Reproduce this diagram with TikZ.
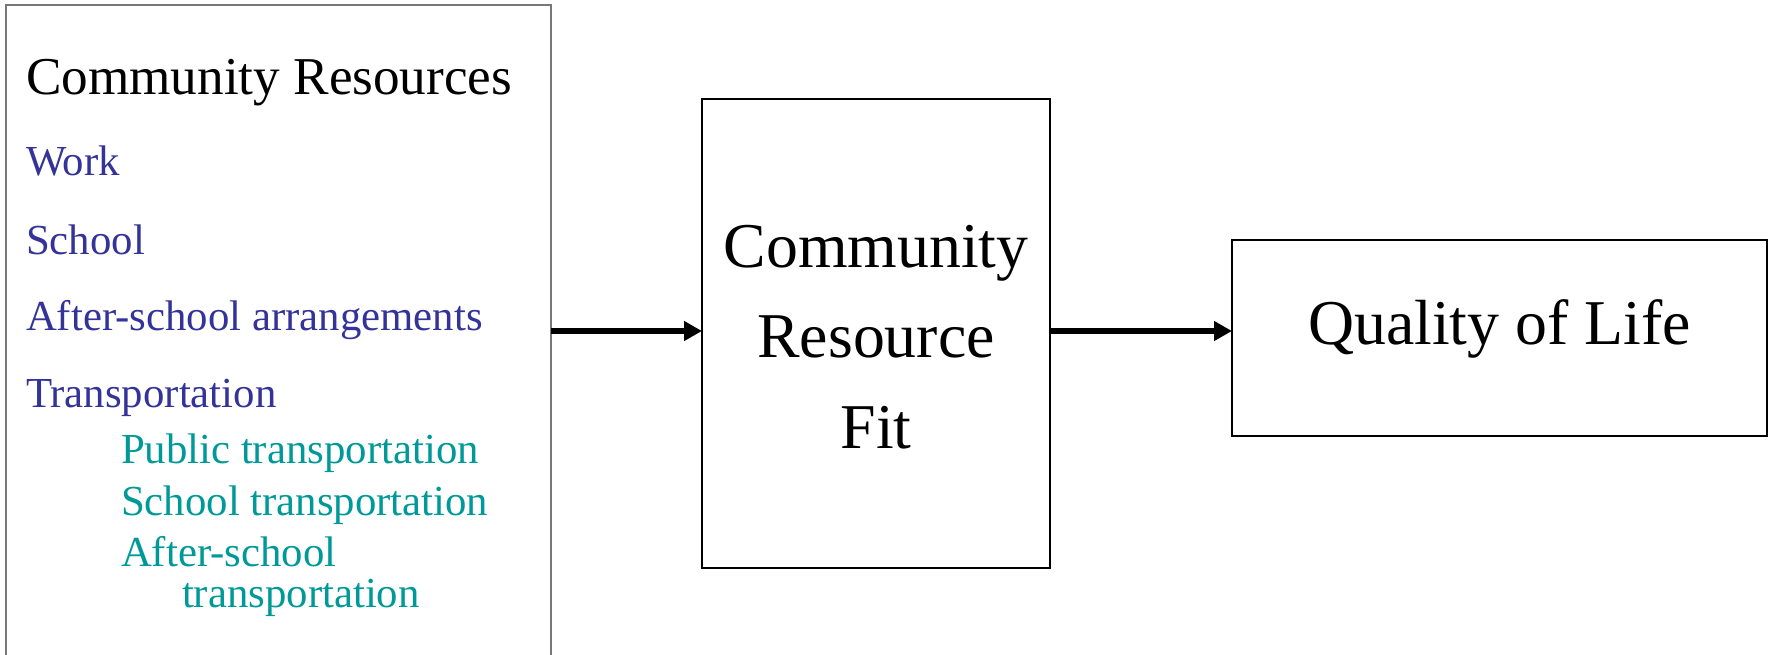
\documentclass[tikz,border=0pt]{standalone}
\usepackage{fontspec}
\setmainfont{Liberation Serif}
\usetikzlibrary{arrows.meta}
\definecolor{itemblue}{RGB}{51,51,153}
\definecolor{itemteal}{RGB}{0,153,153}
\definecolor{boxgray}{RGB}{120,120,120}
\begin{document}
\begin{tikzpicture}[x=0.5pt,y=-0.5pt,
  boxnode/.style={line width=1pt, inner sep=0pt, outer sep=0pt, anchor=north west},
  txt/.style={inner sep=0pt, outer sep=0pt, anchor=base west},
  ctxt/.style={inner sep=0pt, outer sep=0pt, anchor=base},
  titlefont/.style={font=\fontsize{26.6}{30}\selectfont},
  itemfont/.style={font=\fontsize{21.4}{25}\selectfont},
  bigfont/.style={font=\fontsize{31.9}{36}\selectfont},
  arr/.style={line width=3.2pt, -{Triangle[length=9pt,width=9.5pt]}}]
\useasboundingbox (0,0) rectangle (1772,654);
\clip (0,0) rectangle (1772,654);
% boxes
\node[boxnode, draw=boxgray, minimum width=272.5pt, minimum height=350pt] (lbox) at (6,5) {};
\node[boxnode, draw=black, minimum width=174pt, minimum height=234.5pt] (mid) at (702,99) {};
\node[boxnode, draw=black, minimum width=267.5pt, minimum height=98pt] (qol) at (1232,240) {};
% left box texts
\node[txt, titlefont] (t0) at (26,94) {Community Resources};
\node[txt, itemfont, text=itemblue] (t1) at (26,175) {Work};
\node[txt, itemfont, text=itemblue] (t2) at (26,254) {School};
\node[txt, itemfont, text=itemblue] (t3) at (26,330) {After-school arrangements};
\node[txt, itemfont, text=itemblue] (t4) at (26,407) {Transportation};
\node[txt, itemfont, text=itemteal] (t5) at (121,463) {Public transportation};
\node[txt, itemfont, text=itemteal] (t6) at (121,515) {School transportation};
\node[txt, itemfont, text=itemteal] (t7) at (121,566) {After-school};
\node[txt, itemfont, text=itemteal] (t8) at (182,607) {transportation};
% middle box text
\node[ctxt, bigfont] (m1) at (876,267) {Community};
\node[ctxt, bigfont] (m2) at (876,357) {Resource};
\node[ctxt, bigfont] (m3) at (876,448) {Fit};
% quality of life
\node[ctxt, bigfont] (q1) at (1499.5,344) {Quality of Life};
% arrows
\coordinate (ay) at (0,331);
\draw[arr] (lbox.east |- ay) -- (mid.west |- ay);
\draw[arr] (mid.east |- ay) -- (qol.west |- ay);
\end{tikzpicture}
\end{document}
